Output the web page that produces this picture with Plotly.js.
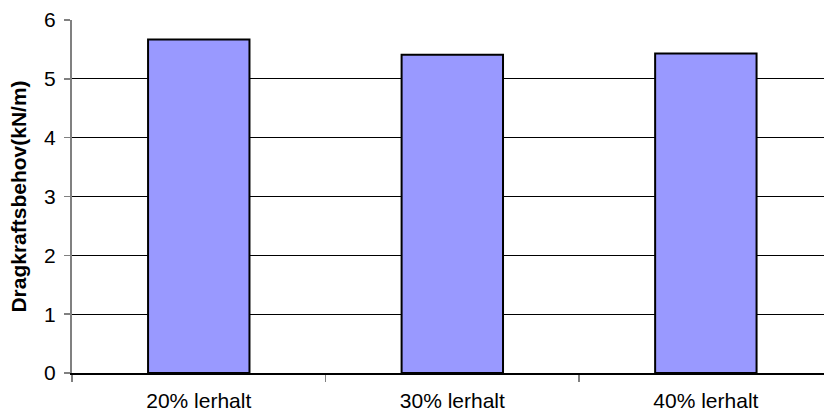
<!DOCTYPE html>
<html>
<head>
<meta charset="utf-8">
<script src="https://cdn.plot.ly/plotly-3.0.1.min.js"></script>
<style>
html,body{margin:0;padding:0;background:#fff;}
#chart{width:824px;height:415px;}
</style>
</head>
<body>
<div id="chart"></div>
<script>
const categories = ["20% lerhalt", "30% lerhalt", "40% lerhalt"];
const values = [5.67, 5.41, 5.43];
const yTickValues = [0, 1, 2, 3, 4, 5, 6];
const yTitle = "Dragkraftsbehov(kN/m)";

const trace = {
  type: "bar",
  x: categories,
  y: values,
  width: 0.4,
  marker: { color: "#9999FF", line: { color: "#000000", width: 2 } },
  hoverinfo: "none"
};

const layout = {
  width: 824,
  height: 415,
  margin: { l: 72, r: 0, t: 20, b: 42, pad: 0 },
  paper_bgcolor: "#ffffff",
  plot_bgcolor: "#ffffff",
  font: { family: "Liberation Sans, Arial, sans-serif", size: 21, color: "#000000" },
  showlegend: false,
  xaxis: {
    type: "category",
    range: [-0.5, 2.466],
    showgrid: false,
    showline: true,
    linecolor: "#000000",
    linewidth: 1.5,
    ticks: "outside",
    tickson: "boundaries",
    ticklen: 7,
    tickcolor: "#808080",
    tickwidth: 1.5,
    tickfont: { size: 21 },
    ticklabelstandoff: 8,
    zeroline: false,
    fixedrange: true
  },
  yaxis: {
    range: [0, 6],
    tickvals: yTickValues,
    ticktext: yTickValues.map(String),
    showgrid: true,
    gridcolor: "#000000",
    gridwidth: 1,
    showline: true,
    linecolor: "#808080",
    linewidth: 2,
    ticks: "outside",
    ticklen: 6,
    tickcolor: "#808080",
    tickwidth: 1.5,
    tickfont: { size: 21 },
    ticklabelstandoff: 4,
    zeroline: false,
    title: { text: yTitle, font: { size: 21, family: "Liberation Sans, Arial, sans-serif", weight: "bold" }, standoff: 12 },
    fixedrange: true
  }
};

Plotly.newPlot("chart", [trace], layout, { displayModeBar: false, staticPlot: true });
</script>
</body>
</html>
